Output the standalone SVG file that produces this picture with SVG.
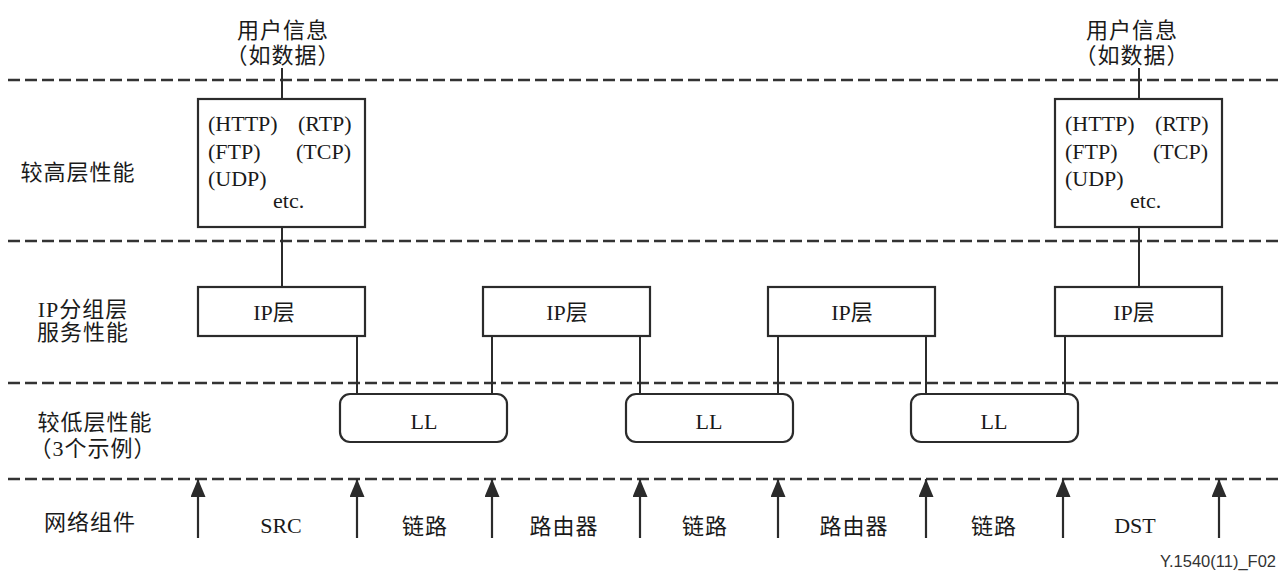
<svg xmlns="http://www.w3.org/2000/svg" width="1281" height="577" viewBox="0 0 1281 577">
<style>
.bg{fill:#ffffff}
.dash{stroke:#333;stroke-width:2.5;stroke-dasharray:12 5;fill:none}
.box{fill:#fff;stroke:#2b2b2b;stroke-width:2.2}
.ln{stroke:#2b2b2b;stroke-width:2;fill:none}
.arr{stroke:#2b2b2b;stroke-width:2.2;fill:none}
.t{font-family:"Liberation Serif","Noto Sans CJK SC",serif;font-size:22px;fill:#1a1a1a}
.c{font-family:"Liberation Serif","Noto Sans CJK SC",sans-serif;font-size:22px;fill:#1a1a1a;letter-spacing:1px}
.m{text-anchor:middle}
.fig{font-family:"Liberation Sans",Arial,sans-serif;font-size:16.5px;fill:#333;text-anchor:end}
</style>
<defs>
<marker id="ah" markerUnits="userSpaceOnUse" viewBox="0 0 18 15" refX="18" refY="7.5" markerWidth="18" markerHeight="15" orient="auto">
<path d="M0,0 L18,7.5 L0,15 z" fill="#2b2b2b"/>
</marker>
</defs>
<rect class="bg" x="0" y="0" width="1281" height="577"/>

<g id="layer-lines">
<line class="dash" x1="8" y1="80" x2="1281" y2="80"/>
<line class="dash" x1="8" y1="241" x2="1281" y2="241"/>
<line class="dash" x1="8" y1="383" x2="1281" y2="383"/>
<line class="dash" x1="8" y1="479" x2="1281" y2="479"/>
</g>

<g id="layer-labels">
<text class="c m" x="78" y="180">较高层性能</text>
<text class="c m" x="83" y="317"><tspan x="83" y="317">IP分组层</tspan><tspan x="83" y="340">服务性能</tspan></text>
<text class="c m" x="95" y="430"><tspan x="95" y="430">较低层性能</tspan><tspan x="93" y="456">（3个示例）</tspan></text>
<text class="c m" x="90" y="530">网络组件</text>
</g>

<g id="connectors">
<line class="ln" x1="282" y1="68" x2="282" y2="99"/>
<line class="ln" x1="282" y1="227" x2="282" y2="287"/>
<line class="ln" x1="1139" y1="68" x2="1139" y2="99"/>
<line class="ln" x1="1139" y1="227" x2="1139" y2="287"/>
<line class="ln" x1="357" y1="336" x2="357" y2="394"/>
<line class="ln" x1="492" y1="336" x2="492" y2="394"/>
<line class="ln" x1="640" y1="336" x2="640" y2="394"/>
<line class="ln" x1="778" y1="336" x2="778" y2="394"/>
<line class="ln" x1="926" y1="336" x2="926" y2="394"/>
<line class="ln" x1="1065" y1="336" x2="1065" y2="394"/>
<line class="arr" x1="198" y1="538" x2="198" y2="479" marker-end="url(#ah)"/>
<line class="arr" x1="357" y1="538" x2="357" y2="479" marker-end="url(#ah)"/>
<line class="arr" x1="492" y1="538" x2="492" y2="479" marker-end="url(#ah)"/>
<line class="arr" x1="640" y1="538" x2="640" y2="479" marker-end="url(#ah)"/>
<line class="arr" x1="778" y1="538" x2="778" y2="479" marker-end="url(#ah)"/>
<line class="arr" x1="926" y1="538" x2="926" y2="479" marker-end="url(#ah)"/>
<line class="arr" x1="1063" y1="538" x2="1063" y2="479" marker-end="url(#ah)"/>
<line class="arr" x1="1219" y1="538" x2="1219" y2="479" marker-end="url(#ah)"/>
</g>

<g id="user-info-src">
<text class="c m" x="283" y="38"><tspan x="283" y="38">用户信息</tspan><tspan x="283" y="63">（如数据）</tspan></text>
</g>
<g id="user-info-dst">
<text class="c m" x="1132" y="38"><tspan x="1132" y="38">用户信息</tspan><tspan x="1132" y="63">（如数据）</tspan></text>
</g>

<g id="hl-src">
<rect class="box" x="198" y="99" width="167" height="128"/>
<text class="t" x="208" y="131">(HTTP)</text>
<text class="t" x="298" y="131">(RTP)</text>
<text class="t" x="208" y="159">(FTP)</text>
<text class="t" x="296" y="159">(TCP)</text>
<text class="t" x="208" y="186">(UDP)</text>
<text class="t" x="273" y="208">etc.</text>
</g>
<g id="hl-dst">
<rect class="box" x="1055" y="99" width="167" height="128"/>
<text class="t" x="1065" y="131">(HTTP)</text>
<text class="t" x="1155" y="131">(RTP)</text>
<text class="t" x="1065" y="159">(FTP)</text>
<text class="t" x="1153" y="159">(TCP)</text>
<text class="t" x="1065" y="186">(UDP)</text>
<text class="t" x="1130" y="208">etc.</text>
</g>

<g id="ip1"><rect class="box" x="198" y="287" width="167" height="49"/><text class="t m" x="274" y="320">IP层</text></g>
<g id="ip2"><rect class="box" x="483" y="287" width="167" height="49"/><text class="t m" x="567" y="320">IP层</text></g>
<g id="ip3"><rect class="box" x="768" y="287" width="167" height="49"/><text class="t m" x="852" y="320">IP层</text></g>
<g id="ip4"><rect class="box" x="1055" y="287" width="167" height="49"/><text class="t m" x="1134" y="320">IP层</text></g>

<g id="ll1"><rect class="box" x="340" y="394" width="167" height="48" rx="10"/><text class="t m" x="424" y="429">LL</text></g>
<g id="ll2"><rect class="box" x="626" y="394" width="167" height="48" rx="10"/><text class="t m" x="709" y="429">LL</text></g>
<g id="ll3"><rect class="box" x="911" y="394" width="167" height="48" rx="10"/><text class="t m" x="994" y="429">LL</text></g>

<g id="components">
<text class="t m" x="281" y="533">SRC</text>
<text class="c m" x="425" y="534">链路</text>
<text class="c m" x="564" y="534">路由器</text>
<text class="c m" x="705" y="534">链路</text>
<text class="c m" x="854" y="534">路由器</text>
<text class="c m" x="994" y="534">链路</text>
<text class="t m" x="1135" y="533">DST</text>
</g>

<text class="fig" x="1276" y="567">Y.1540(11)_F02</text>
</svg>
